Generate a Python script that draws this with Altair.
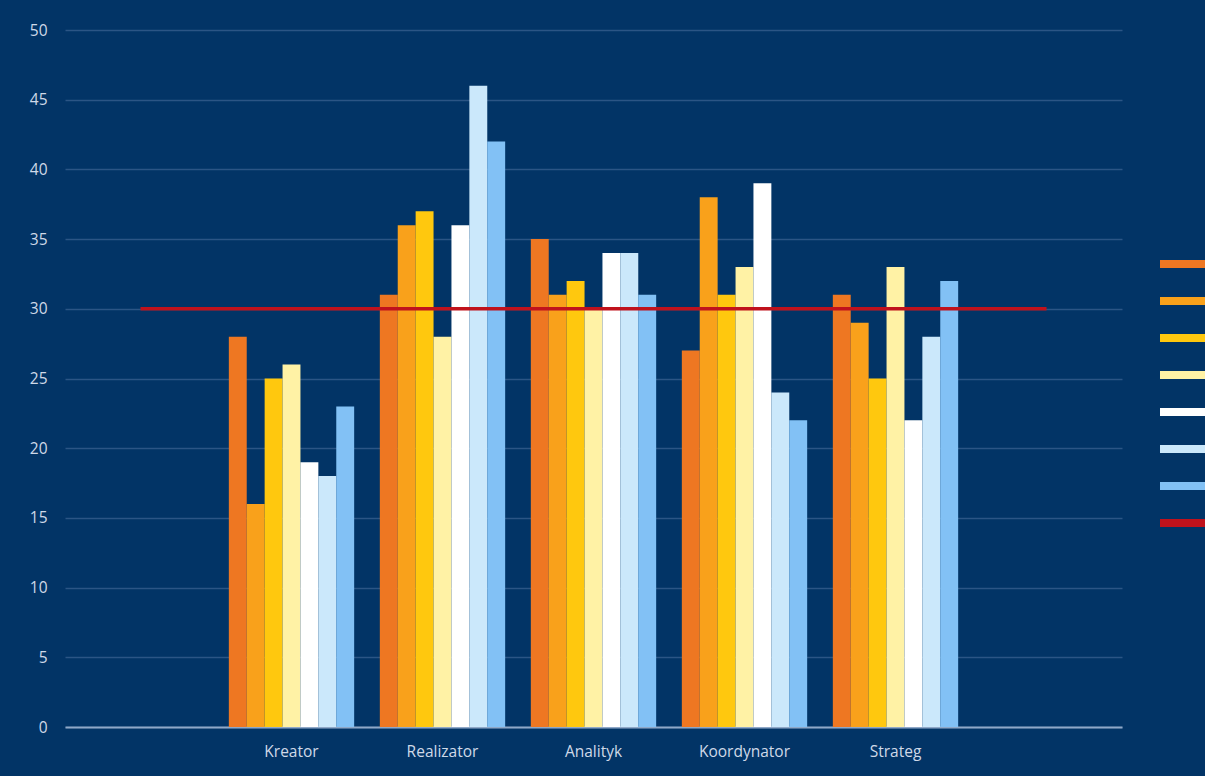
import altair as alt
import pandas as pd

categories = [" ", "Kreator", "Realizator", "Analityk", "Koordynator", "Strateg", "  "]
series_names = ["Seria 1", "Seria 2", "Seria 3", "Seria 4", "Seria 5", "Seria 6", "Seria 7"]
line_name = "Próg"
values = {
    "Kreator":     [28, 16, 25, 26, 19, 18, 23],
    "Realizator":  [31, 36, 37, 28, 36, 46, 42],
    "Analityk":    [35, 31, 32, 30, 34, 34, 31],
    "Koordynator": [27, 38, 31, 33, 39, 24, 22],
    "Strateg":     [31, 29, 25, 33, 22, 28, 32],
}
threshold = [30, 30, 30, 30, 30, 30, 30]
colors = ["#EE7722", "#F9A11B", "#FFC80E", "#FFF2A5", "#FFFFFF", "#CBE8FB", "#82C1F5", "#C0121C"]

bar_rows = []
for cat, vals in values.items():
    for s, v in zip(series_names, vals):
        bar_rows.append({"cat": cat, "series": s, "value": v})
bars_df = pd.DataFrame(bar_rows)
line_df = pd.DataFrame({"cat": categories, "series": [line_name] * len(categories), "value": threshold})

BG = "#023466"
LABEL = "#CFD9E8"
FONT = "Open Sans"

x_scale = alt.Scale(domain=categories, paddingInner=0.17, paddingOuter=0.085)
y_scale = alt.Scale(domain=[0, 50])
color_scale = alt.Scale(domain=series_names + [line_name], range=colors)

legend = alt.Legend(
    orient="none", legendX=1095, legendY=215.5, title=None,
    symbolType="M-1,-0.22H3V0.22H-1Z", symbolSize=1369, symbolStrokeWidth=0,
    symbolOpacity=1, rowPadding=13, padding=0, labelExpr="''",
)

bars = alt.Chart(bars_df).mark_bar(opacity=1).encode(
    x=alt.X("cat:N", scale=x_scale, sort=categories, title=None,
            axis=alt.Axis(labelAngle=0, ticks=False, labelPadding=17, labelFontSize=15.5,
                          labelColor=LABEL, labelFont=FONT, domainColor="#8FA8C8",
                          domainWidth=2, grid=False)),
    xOffset=alt.XOffset("series:N", sort=series_names,
                        scale=alt.Scale(domain=series_names, paddingInner=0, paddingOuter=0)),
    y=alt.Y("value:Q", scale=y_scale, title=None,
            axis=alt.Axis(values=list(range(0, 55, 5)), ticks=False, domain=False,
                          labelPadding=18, labelFontSize=15.5, labelColor=LABEL, labelFont=FONT,
                          gridColor="#2B5585", gridWidth=1.5)),
    color=alt.Color("series:N", scale=color_scale, legend=legend),
)

line = alt.Chart(line_df).mark_line(strokeWidth=3.5).encode(
    x=alt.X("cat:N", scale=x_scale, sort=categories),
    y=alt.Y("value:Q", scale=y_scale),
    color=alt.Color("series:N", scale=color_scale, legend=legend),
)

chart = alt.layer(bars, line).properties(
    width=1057, height=697,
    autosize=alt.AutoSizeParams(type="none"),
    padding={"left": 65, "top": 30, "right": 83, "bottom": 49},
    background=BG,
).configure_view(stroke=None, fill=BG)

chart.save("out.html", embed_options={"renderer": "svg", "actions": False})
